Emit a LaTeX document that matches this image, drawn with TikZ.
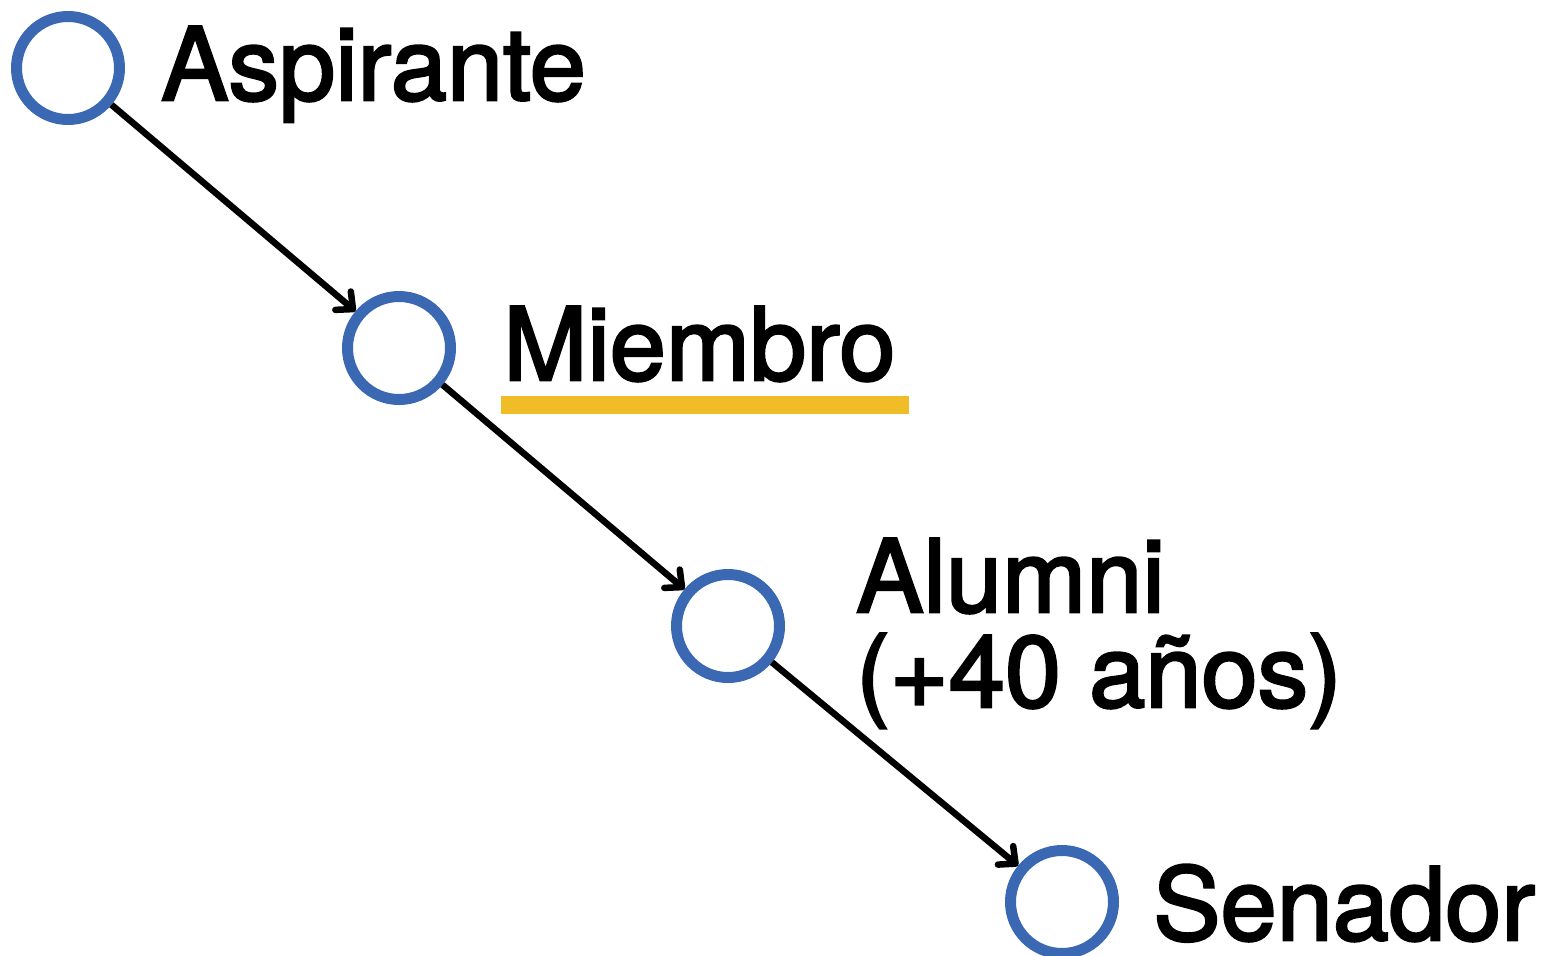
\documentclass[tikz,border=0pt]{standalone}
\usepackage{fontspec}
\setmainfont{TeX Gyre Heros}
\newfontfamily\medfont[FakeBold=2.5]{TeX Gyre Heros}
\usetikzlibrary{arrows.meta}
\definecolor{ringblue}{HTML}{3B68B2}
\definecolor{markyellow}{HTML}{F0BC28}
\tikzset{
  ring/.style={circle, draw=ringblue, line width=11pt, minimum size=103pt, inner sep=0pt},
  lbl/.style={anchor=base west, inner sep=0pt, font=\medfont\fontsize{101}{95}\selectfont},
  arr/.style={line width=6.5pt, -{Straight Barb[length=13pt,width=24pt,line cap=round,line join=round]}}
}
\begin{document}
\begin{tikzpicture}[x=1pt,y=-1pt]
\useasboundingbox (0,0) rectangle (1543,956);
\node[ring] (c1) at (68,68) {};
\node[ring] (c2) at (399,348) {};
\node[ring] (c3) at (728,626) {};
\node[ring] (c4) at (1062,902) {};
\draw[arr] (c1) -- (c2);
\draw[arr] (c2) -- (c3);
\draw[arr] (c3) -- (c4);
\node[lbl] (t1) at (161,100) {Aspirante};
\node[lbl] (t2) at (503,380) {Miembro};
\fill[markyellow] (501,396) rectangle (909,414);
\node[lbl] (t3) at (856,612) {\vtop{\baselineskip=95pt\hbox{Alumni}\hbox{(+40 años)}}};
\node[lbl] (t4) at (1153,940) {Senador};
\end{tikzpicture}
\end{document}
